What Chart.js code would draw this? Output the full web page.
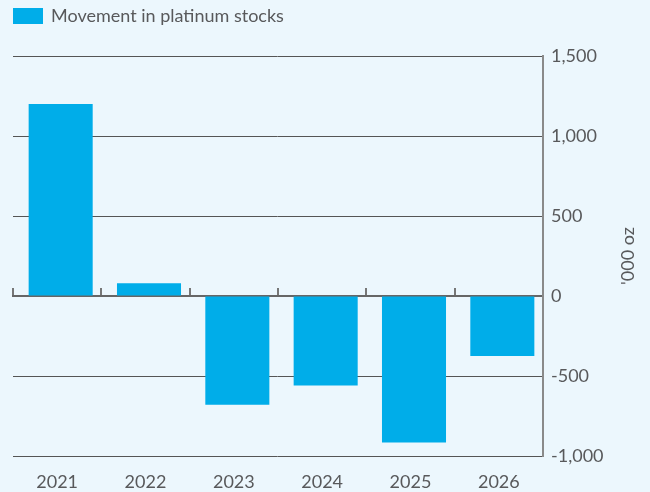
<!DOCTYPE html>
<html>
<head>
<meta charset="utf-8">
<script src="https://cdn.jsdelivr.net/npm/chart.js@4"></script>
<style>
  html, body { margin: 0; padding: 0; background: #ECF7FD; }
  #wrap { width: 650px; height: 492px; position: relative; }
  canvas { display: block; }
</style>
</head>
<body>
<div id="wrap"><canvas id="c" width="650" height="492"></canvas></div>
<script>
const categories = ['2021', '2022', '2023', '2024', '2025', '2026'];
const stockMovement = [1200, 80, -680, -560, -915, -375];
const seriesLabel = 'Movement in platinum stocks';
const yAxisTitle = "'000 oz";
const yMin = -1000, yMax = 1500, yStep = 500;

const TEXT = '#58595b';
const FONT = 'Lato';
const BAR = '#00ADE9';

const legendSpacer = {
  id: 'legendSpacer',
  beforeInit(chart) {
    const fit = chart.legend.fit;
    chart.legend.fit = function () { fit.call(this); this.height += 21; };
  }
};

const rightTitle = {
  id: 'rightTitle',
  afterDraw(chart) {
    const {ctx, chartArea} = chart;
    ctx.save();
    ctx.translate(chartArea.right + 85, (chartArea.top + chartArea.bottom) / 2);
    ctx.rotate(-Math.PI / 2);
    ctx.font = '18px ' + FONT;
    ctx.fillStyle = TEXT;
    ctx.textAlign = 'center';
    ctx.textBaseline = 'middle';
    ctx.fillText(yAxisTitle, 0, 0);
    ctx.restore();
  }
};

const barShift = {
  id: 'barShift',
  beforeDatasetsDraw(chart) { chart.ctx.save(); chart.ctx.translate(3.5, 0); },
  afterDatasetsDraw(chart) { chart.ctx.restore(); }
};

new Chart(document.getElementById('c'), {
  type: 'bar',
  data: {
    labels: categories,
    datasets: [{
      label: seriesLabel,
      data: stockMovement,
      backgroundColor: BAR,
      borderWidth: 0,
      barPercentage: 0.725,
      categoryPercentage: 1.0
    }]
  },
  options: {
    responsive: false,
    maintainAspectRatio: false,
    animation: false,
    devicePixelRatio: 1,
    layout: { padding: { left: 13, top: 7, right: 0, bottom: 0 } },
    plugins: {
      legend: {
        position: 'top',
        align: 'start',
        labels: {
          boxWidth: 29,
          boxHeight: 14,
          padding: 0,
          color: TEXT,
          font: { family: FONT, size: 18 },
          generateLabels(chart) {
            return Chart.defaults.plugins.legend.labels.generateLabels(chart).map(item =>
              Object.assign(item, { lineWidth: 2, strokeStyle: BAR, fillStyle: BAR }));
          }
        }
      },
      tooltip: { enabled: false }
    },
    scales: {
      x: {
        type: 'category',
        offset: true,
        afterFit(scale) { scale.height = 36; },
        grid: { display: false, drawTicks: false },
        border: { display: false },
        ticks: {
          color: TEXT,
          padding: 15,
          maxRotation: 0,
          autoSkip: false,
          font: { family: FONT, size: 18, lineHeight: 1.2 }
        }
      },
      x2: {
        type: 'category',
        labels: categories,
        offset: true,
        position: { y: 0 },
        afterFit(scale) { scale.height = 0; },
        grid: {
          offset: true,
          drawOnChartArea: false,
          drawTicks: true,
          tickLength: -9,
          color: '#777',
          lineWidth: 2
        },
        border: { display: true, color: '#666', width: 2 },
        ticks: { display: false }
      },
      y: {
        position: 'right',
        min: yMin,
        max: yMax,
        afterFit(scale) { scale.width = 107; },
        ticks: {
          stepSize: yStep,
          color: TEXT,
          padding: 8,
          font: { family: FONT, size: 18 }
        },
        grid: {
          drawTicks: false,
          color: (ctx) => ctx.tick && ctx.tick.value === 0 ? 'rgba(0,0,0,0)' : '#555',
          lineWidth: 1
        },
        border: { display: true, color: '#8a8a8a', width: 2 }
      }
    }
  },
  plugins: [legendSpacer, rightTitle, barShift]
});
</script>
</body>
</html>
